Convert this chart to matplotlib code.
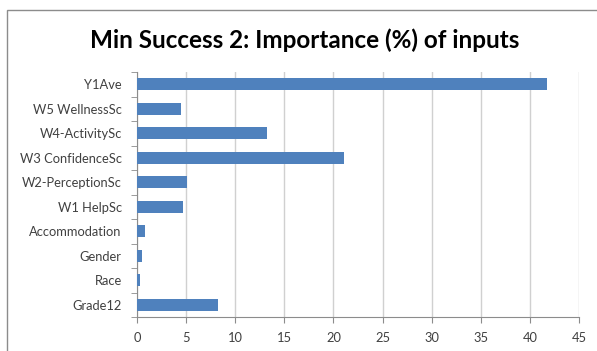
import numpy as np
import matplotlib.pyplot as plt
from matplotlib.patches import Rectangle

labels = ["Y1Ave", "W5 WellnessSc", "W4-ActivitySc", "W3 ConfidenceSc",
          "W2-PerceptionSc", "W1 HelpSc", "Accommodation", "Gender", "Race", "Grade12"]
values = [41.7, 4.5, 13.2, 21.1, 5.1, 4.7, 0.8, 0.55, 0.3, 8.2]
xticks = [0, 5, 10, 15, 20, 25, 30, 35, 40, 45]

plt.rcParams['font.family'] = ['Lato', 'DejaVu Sans']

fig = plt.figure(figsize=(5.97, 3.51), dpi=100)
# chart frame (left and top edges visible)
fig.patches.append(Rectangle((7/597, -0.1), 1.2, 1.1 - 10/351,
                             transform=fig.transFigure, fill=False,
                             edgecolor='#8c8c8c', linewidth=1.0))

ax = fig.add_axes([137/597, 1 - 317/351, (579-137)/597, (317-72)/351])
y = np.arange(len(labels))[::-1]
ax.barh(y, values, height=0.5, color='#4F81BD', zorder=3)

ax.set_xlim(0, 45)
ax.set_ylim(-0.5, len(labels) - 0.5)
ax.set_xticks(xticks)
ax.set_yticks(y)
ax.set_yticklabels(labels)
ax.set_yticks(np.arange(-0.5, len(labels), 1), minor=True)
ax.tick_params(axis='y', which='major', length=0, pad=11, labelsize=9.3, labelcolor='#404040')
ax.tick_params(axis='y', which='minor', length=4, color='#8c8c8c', direction='out')
ax.tick_params(axis='x', length=4, color='#8c8c8c', labelsize=9.3, labelcolor='#404040', pad=7)

ax.grid(axis='x', color='#d0d0d0', linewidth=1.0, zorder=0)
for s in ['top', 'right']:
    ax.spines[s].set_visible(False)
for s in ['left', 'bottom']:
    ax.spines[s].set_color('#8c8c8c')

fig.text(305/597, 1 - 40/351, "Min Success 2: Importance (%) of inputs",
         ha='center', va='center', fontsize=17.5, fontweight='bold', color='black')

fig.savefig("out.png", dpi=100)
